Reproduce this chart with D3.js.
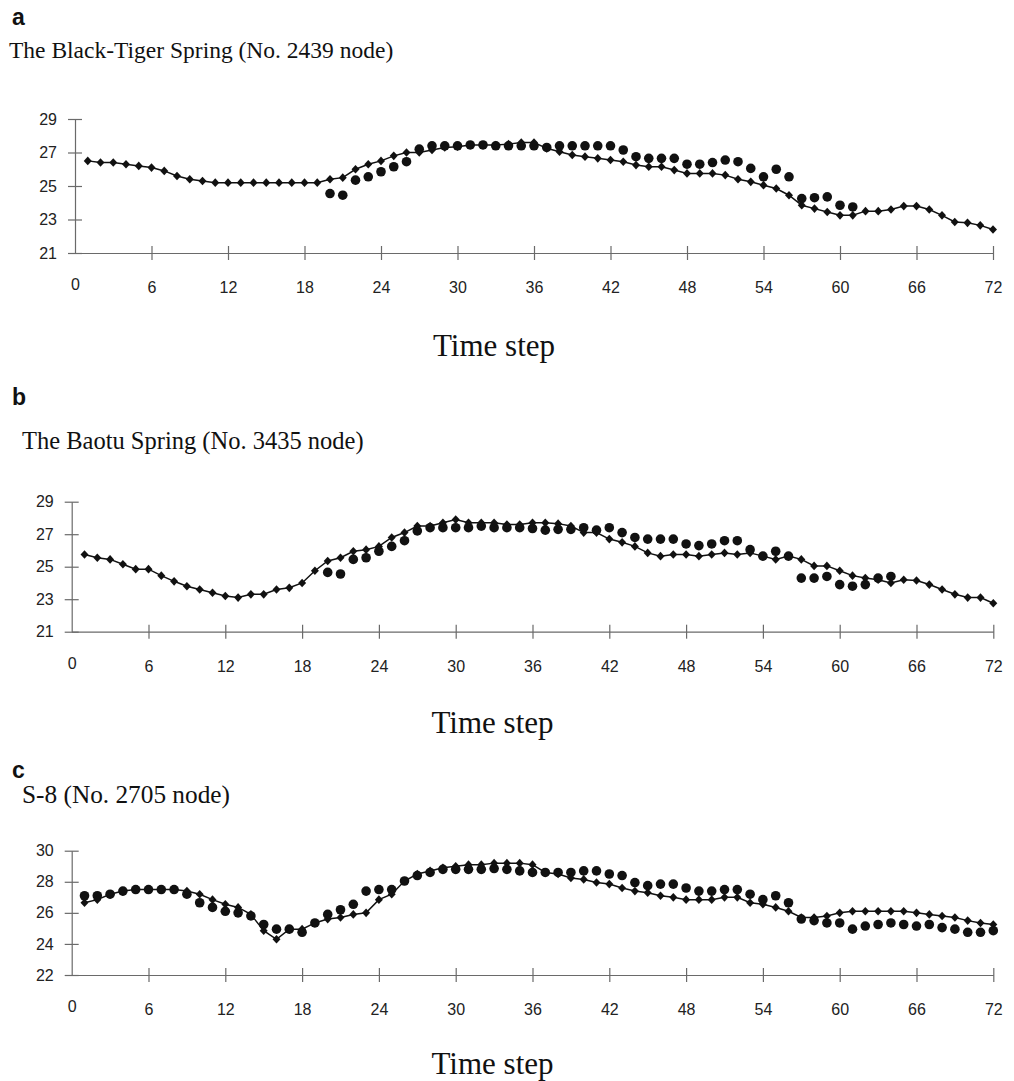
<!DOCTYPE html>
<html>
<head>
<meta charset="utf-8">
<script src="https://cdn.jsdelivr.net/npm/d3@7"></script>
<style>
  html, body { margin: 0; padding: 0; background: #fff; }
  svg { display: block; }
</style>
</head>
<body>
<svg id="chart" width="1014" height="1081"></svg>
<script>
// ---------- DATA ----------
const timeSteps = d3.range(1, 73);            // time steps 1..72
const xTickValues = [0, 6, 12, 18, 24, 30, 36, 42, 48, 54, 60, 66, 72];
const yTicksAB = [21, 23, 25, 27, 29];
const yTicksC = [22, 24, 26, 28, 30];

const panelLetters = ["a", "b", "c"];
const panelTitles = [
  "The Black-Tiger Spring (No. 2439 node)",
  "The Baotu Spring (No. 3435 node)",
  "S-8 (No. 2705 node)"
];
const xAxisTitle = "Time step";

// simulated (diamonds + line)
const simA = [26.5, 26.4, 26.4, 26.3, 26.2, 26.1, 25.9, 25.6, 25.4, 25.3,
  25.2, 25.2, 25.2, 25.2, 25.2, 25.2, 25.2, 25.2, 25.2, 25.4,
  25.5, 26.0, 26.3, 26.5, 26.8, 27.0, 27.0, 27.15, 27.3, 27.35,
  27.45, 27.45, 27.45, 27.5, 27.6, 27.6, 27.25, 27.05, 26.85, 26.75,
  26.65, 26.55, 26.45, 26.25, 26.15, 26.15, 25.95, 25.75, 25.75, 25.75,
  25.65, 25.4, 25.25, 25.05, 24.85, 24.45, 23.85, 23.65, 23.45, 23.25,
  23.25, 23.5, 23.5, 23.6, 23.8, 23.8, 23.6, 23.25, 22.85, 22.8,
  22.65, 22.4];
// observed (dots), null where not observed
const obsA = [null, null, null, null, null, null, null, null, null, null,
  null, null, null, null, null, null, null, null, null, 24.55,
  24.45, 25.35, 25.55, 25.85, 26.15, 26.45, 27.2, 27.4, 27.4, 27.4,
  27.45, 27.45, 27.4, 27.4, 27.4, 27.4, 27.3, 27.4, 27.4, 27.4,
  27.4, 27.4, 27.15, 26.75, 26.65, 26.65, 26.65, 26.3, 26.3, 26.4,
  26.55, 26.45, 26.05, 25.55, 26.0, 25.55, 24.25, 24.3, 24.35, 23.85,
  23.75, null, null, null, null, null, null, null, null, null,
  null, null];

const simB = [25.75, 25.55, 25.45, 25.15, 24.85, 24.85, 24.45, 24.1, 23.8, 23.6,
  23.4, 23.2, 23.1, 23.3, 23.3, 23.6, 23.7, 24.0, 24.75, 25.35,
  25.55, 25.95, 26.05, 26.25, 26.8, 27.1, 27.5, 27.5, 27.7, 27.9,
  27.7, 27.7, 27.7, 27.6, 27.6, 27.7, 27.7, 27.65, 27.5, 27.1,
  27.1, 26.7, 26.5, 26.25, 25.85, 25.65, 25.75, 25.75, 25.65, 25.75,
  25.85, 25.75, 25.85, 25.65, 25.45, 25.65, 25.45, 25.05, 25.05, 24.75,
  24.45, 24.3, 24.2, 24.0, 24.2, 24.15, 23.9, 23.6, 23.3, 23.1,
  23.1, 22.75];
const obsB = [null, null, null, null, null, null, null, null, null, null,
  null, null, null, null, null, null, null, null, null, 24.65,
  24.55, 25.45, 25.55, 25.95, 26.25, 26.6, 27.2, 27.4, 27.4, 27.4,
  27.4, 27.5, 27.4, 27.4, 27.4, 27.35, 27.25, 27.3, 27.3, 27.4,
  27.25, 27.4, 27.1, 26.8, 26.7, 26.7, 26.7, 26.4, 26.3, 26.4,
  26.6, 26.6, 26.05, 25.65, 25.95, 25.65, 24.3, 24.3, 24.4, 23.9,
  23.8, 23.9, 24.3, 24.4, null, null, null, null, null, null,
  null, null];

const simC = [26.65, 26.85, 27.2, 27.4, 27.5, 27.5, 27.5, 27.5, 27.4, 27.2,
  26.85, 26.55, 26.35, 25.9, 24.85, 24.3, 24.95, 24.95, 25.35, 25.6,
  25.7, 25.9, 26.0, 26.85, 27.2, 28.05, 28.5, 28.7, 28.9, 29.0,
  29.1, 29.1, 29.2, 29.2, 29.2, 29.1, 28.6, 28.5, 28.25, 28.15,
  27.95, 27.85, 27.6, 27.4, 27.3, 27.1, 27.0, 26.85, 26.85, 26.85,
  27.0, 27.0, 26.65, 26.55, 26.35, 26.1, 25.7, 25.7, 25.8, 26.0,
  26.1, 26.1, 26.1, 26.1, 26.1, 26.0, 25.9, 25.8, 25.7, 25.5,
  25.35, 25.25];
const obsC = [27.1, 27.1, 27.2, 27.4, 27.5, 27.5, 27.5, 27.5, 27.2, 26.65,
  26.35, 26.1, 26.0, 25.8, 25.25, 24.95, 24.95, 24.75, 25.35, 25.9,
  26.2, 26.55, 27.4, 27.5, 27.5, 28.05, 28.4, 28.6, 28.8, 28.8,
  28.8, 28.8, 28.85, 28.8, 28.7, 28.6, 28.6, 28.6, 28.6, 28.7,
  28.7, 28.5, 28.4, 27.95, 27.75, 27.85, 27.85, 27.6, 27.4, 27.4,
  27.5, 27.5, 27.2, 26.85, 27.1, 26.65, 25.6, 25.5, 25.35, 25.35,
  24.95, 25.15, 25.25, 25.35, 25.25, 25.15, 25.25, 25.05, 24.95, 24.75,
  24.75, 24.85];

// ---------- LAYOUT ----------
const panels = [
  { letter: panelLetters[0], title: panelTitles[0], sim: simA, obs: obsA, yTicks: yTicksAB,
    x0: 75, x1: 993, yTop: 119, yBot: 253,
    letterX: 12, letterY: 25, titleX: 9, titleY: 58, titleSize: 23.5, xTitleY: 356 },
  { letter: panelLetters[1], title: panelTitles[1], sim: simB, obs: obsB, yTicks: yTicksAB,
    x0: 71.7, x1: 993.3, yTop: 501.7, yBot: 631.7,
    letterX: 12, letterY: 405, titleX: 22, titleY: 449, titleSize: 24.5, xTitleY: 733 },
  { letter: panelLetters[2], title: panelTitles[2], sim: simC, obs: obsC, yTicks: yTicksC,
    x0: 71.7, x1: 993.3, yTop: 850.7, yBot: 975,
    letterX: 12, letterY: 778, titleX: 22, titleY: 803, titleSize: 25.3, xTitleY: 1074 }
];

const svg = d3.select("#chart");
svg.append("rect").attr("width", 1014).attr("height", 1081).attr("fill", "#fff");

const axisColor = "#6a6a6a";
const textColor = "#222";

const diamondType = {
  draw(ctx, size) {
    const r = Math.sqrt(size) / 2;
    ctx.moveTo(0, -r * 1.08);
    ctx.lineTo(r, 0);
    ctx.lineTo(0, r * 1.08);
    ctx.lineTo(-r, 0);
    ctx.closePath();
  }
};

panels.forEach(p => {
  const x = d3.scaleLinear().domain([0, 72]).range([p.x0, p.x1]);
  const y = d3.scaleLinear().domain([p.yTicks[0], p.yTicks[p.yTicks.length - 1]]).range([p.yBot, p.yTop]);

  // letter + title
  svg.append("text").attr("x", p.letterX).attr("y", p.letterY)
    .attr("font-family", "Liberation Sans, Arial, sans-serif").attr("font-weight", "bold")
    .attr("font-size", 23).attr("fill", "#111").text(p.letter);
  svg.append("text").attr("x", p.titleX).attr("y", p.titleY)
    .attr("font-family", "Liberation Serif, Times New Roman, serif")
    .attr("font-size", p.titleSize).attr("fill", "#111").text(p.title);

  // y axis
  const gy = svg.append("g").attr("transform", `translate(${p.x0},0)`)
    .call(d3.axisLeft(y).tickValues(p.yTicks).tickFormat(d3.format("d"))
      .tickSize(7).tickSizeOuter(0).tickPadding(11));
  gy.select(".domain").attr("stroke", axisColor).attr("stroke-width", 1.2);
  gy.selectAll(".tick line").attr("x1", 7).attr("stroke", axisColor).attr("stroke-width", 1.2);
  gy.selectAll(".tick text").attr("font-family", "Liberation Sans, Arial, sans-serif")
    .attr("font-size", 16).attr("fill", textColor);

  // x axis
  const gx = svg.append("g").attr("transform", `translate(0,${p.yBot})`)
    .call(d3.axisBottom(x).tickValues(xTickValues).tickFormat(d3.format("d"))
      .tickSize(7).tickSizeOuter(0).tickPadding(22));
  gx.select(".domain").attr("stroke", axisColor).attr("stroke-width", 1.2);
  gx.selectAll(".tick line").attr("y1", -7).attr("stroke", axisColor).attr("stroke-width", 1.2)
    .attr("display", d => d === 0 ? "none" : null);
  gx.selectAll(".tick text").attr("font-family", "Liberation Sans, Arial, sans-serif")
    .attr("font-size", 16).attr("fill", textColor)
    .attr("dy", d => d === 0 ? "0.52em" : "0.71em");

  // x axis title
  svg.append("text").attr("x", (p.x0 + p.x1) / 2 - 40).attr("y", p.xTitleY)
    .attr("text-anchor", "middle")
    .attr("font-family", "Liberation Serif, Times New Roman, serif")
    .attr("font-size", 31).attr("fill", "#111").text(xAxisTitle);

  // simulated line
  const simPts = timeSteps.map((t, i) => ({ t, v: p.sim[i] }));
  const line = d3.line().x(d => x(d.t)).y(d => y(d.v));
  svg.append("path").datum(simPts).attr("d", line)
    .attr("fill", "none").attr("stroke", "#111").attr("stroke-width", 1.5);

  // observed dots
  const obsPts = timeSteps.map((t, i) => ({ t, v: p.obs[i] })).filter(d => d.v !== null);
  svg.append("g").selectAll("circle").data(obsPts).join("circle")
    .attr("cx", d => x(d.t)).attr("cy", d => y(d.v)).attr("r", 4.8).attr("fill", "#111");

  // simulated diamonds
  const sym = d3.symbol().type(diamondType).size(64);
  svg.append("g").selectAll("path").data(simPts).join("path")
    .attr("transform", d => `translate(${x(d.t)},${y(d.v)})`)
    .attr("d", sym).attr("fill", "#111");
});
</script>
</body>
</html>
